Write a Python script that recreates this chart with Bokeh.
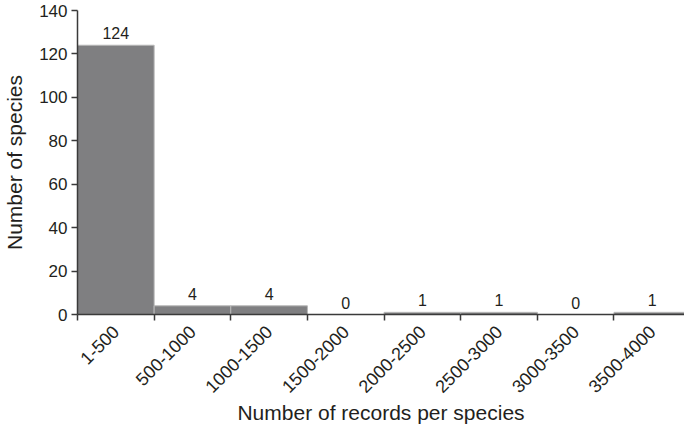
import math
from bokeh.plotting import figure
from bokeh.models import ColumnDataSource, FixedTicker, Range1d
from bokeh.core.properties import value
from bokeh.embed import file_html
from bokeh.resources import INLINE

categories = ["1-500", "500-1000", "1000-1500", "1500-2000",
              "2000-2500", "2500-3000", "3000-3500", "3500-4000"]
species_counts = [124, 4, 4, 0, 1, 1, 0, 1]
y_ticks = [0, 20, 40, 60, 80, 100, 120, 140]
x_title = "Number of records per species"
y_title = "Number of species"

centers = [i + 0.5 for i in range(len(categories))]
boundaries = list(range(len(categories) + 1))

src = ColumnDataSource(dict(x=centers, top=species_counts,
                            label=[str(v) for v in species_counts]))

FONT = "Liberation Sans"
TXT = "#231f20"
AX = "#3a3a3a"

p = figure(width=684, height=426, output_backend="svg", toolbar_location=None,
           x_range=Range1d(0, 7.92), y_range=Range1d(0, 140),
           min_border_left=75, min_border_right=0, min_border_top=10,
           min_border_bottom=100)
p.outline_line_color = None
p.xgrid.visible = False
p.ygrid.visible = False

p.vbar(x="x", top="top", width=1.0, bottom=0, source=src,
       fill_color="#7f7f81", line_color="#b8b8b8", line_width=1)

p.text(x="x", y="top", text="label", source=src,
       text_align="center", text_baseline="alphabetic", y_offset=-12,
       text_font=value(FONT), text_font_size="16px", text_color=TXT)

# x axis
xa = p.xaxis[0]
xa.ticker = FixedTicker(ticks=centers, minor_ticks=boundaries)
xa.major_label_overrides = {c: lab for c, lab in zip(centers, categories)}
xa.major_label_orientation = math.pi / 4
xa.major_tick_line_color = None
xa.minor_tick_line_color = AX
xa.minor_tick_line_width = 1.5
xa.minor_tick_in = 0
xa.minor_tick_out = 6
xa.axis_line_color = AX
xa.axis_line_width = 1.5
xa.major_label_text_font = FONT
xa.major_label_text_font_size = "18px"
xa.major_label_text_color = TXT
xa.major_label_standoff = 8
xa.axis_label = x_title
xa.axis_label_text_font = FONT
xa.axis_label_text_font_size = "21px"
xa.axis_label_text_font_style = "normal"
xa.axis_label_text_color = TXT
xa.axis_label_text_line_height = 0.8
xa.axis_label_standoff = -1

# y axis
ya = p.yaxis[0]
ya.ticker = FixedTicker(ticks=y_ticks, minor_ticks=[])
ya.major_tick_line_color = AX
ya.major_tick_line_width = 1.5
ya.major_tick_in = 0
ya.major_tick_out = 6
ya.minor_tick_line_color = None
ya.axis_line_color = AX
ya.axis_line_width = 1.5
ya.major_label_text_font = FONT
ya.major_label_text_font_size = "17px"
ya.major_label_text_color = TXT
ya.major_label_standoff = 4
ya.axis_label = y_title
ya.axis_label_text_font = FONT
ya.axis_label_text_font_size = "21px"
ya.axis_label_text_font_style = "normal"
ya.axis_label_text_color = TXT
ya.axis_label_standoff = 10

open("out.html", "w").write(file_html(p, INLINE))
